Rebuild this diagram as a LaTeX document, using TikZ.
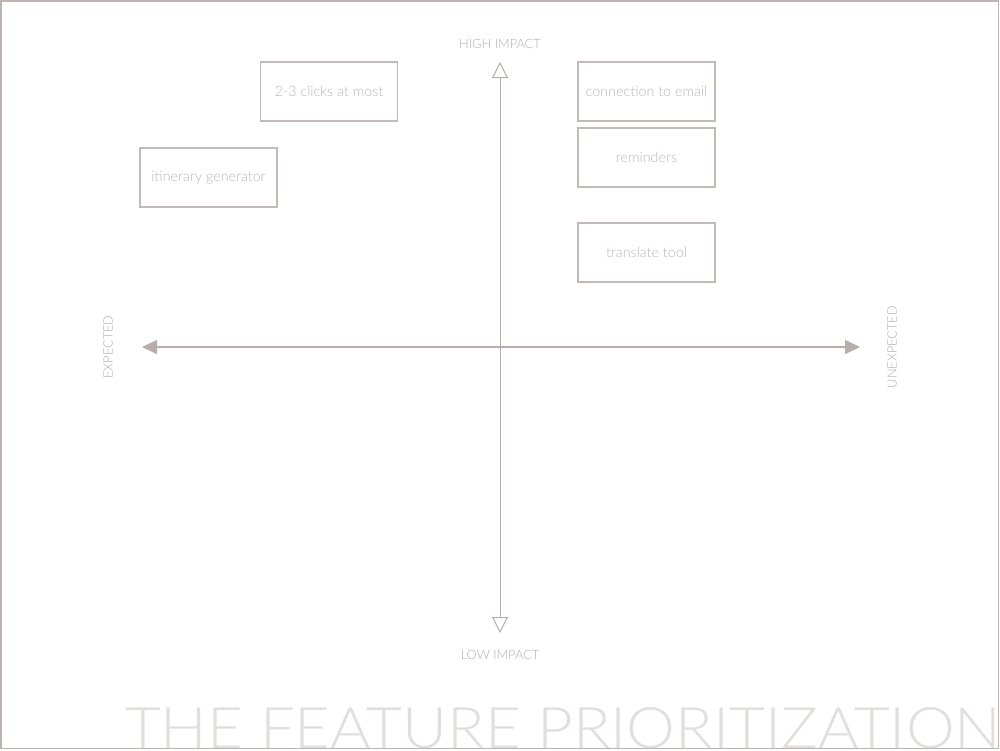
\documentclass[tikz,border=0pt]{standalone}
\usepackage{fontspec}
\setmainfont{Lato}[UprightFont={* Light}]
\usetikzlibrary{arrows.meta}
\definecolor{framec}{RGB}{190,178,178}
\definecolor{axisc}{RGB}{185,172,172}
\definecolor{labc}{RGB}{180,172,172}
\definecolor{boxc}{RGB}{195,185,185}
\definecolor{boxtext}{RGB}{188,182,182}
\definecolor{titlec}{RGB}{226,222,222}
\tikzset{
  feat/.style={draw=boxc, line width=1.1pt, minimum width=137pt, minimum height=59pt, inner sep=0pt, text=boxtext, font=\fontsize{14.3}{16}\selectfont},
  axlab/.style={text=labc, font=\fontsize{12.8}{14}\selectfont, inner sep=0pt},
  openarr/.style={-{Triangle[open, length=16pt, width=16pt, line width=1pt]}},
}
\begin{document}
\begin{tikzpicture}[x=1pt,y=-1pt]
\useasboundingbox (0,0) rectangle (1000,750);
\fill[white] (0,0) rectangle (1000,750);
\begin{scope}
\clip (1,1) rectangle (998,748);
\node[anchor=base west, inner sep=0pt, text=titlec] (title) at (125,748) {\resizebox{876pt}{41pt}{\fontsize{60}{60}\selectfont THE FEATURE PRIORITIZATION}};
\end{scope}
\draw[framec, line width=1.5pt] (1,1) rectangle (998.5,748.5) node (frame) {};
% axes
\coordinate (c) at (500,347);
\coordinate (top) at (500,62);
\coordinate (bot) at (500,633);
\coordinate (lft) at (142,347);
\coordinate (rgt) at (860,347);
\draw[axisc, line width=1pt, openarr] (c) -- (top);
\draw[axisc, line width=1pt, openarr] (c) -- (bot);
\draw[axisc, line width=1.5pt, -{Triangle[length=15pt, width=14pt]}] (c) -- (lft);
\draw[axisc, line width=1.5pt, -{Triangle[length=15pt, width=14pt]}] (c) -- (rgt);
\node[axlab] (hi) at (500,44) {HIGH IMPACT};
\node[axlab] (lo) at (500,655) {LOW IMPACT};
\node[axlab, rotate=90] (ex) at (108,347) {EXPECTED};
\node[axlab, rotate=90] (unex) at (892,347) {UNEXPECTED};
% boxes
\node[feat] (b1) at (329,91.5) {2-3 clicks at most};
\node[feat] (b2) at (646.5,91.5) {connection to email};
\node[feat] (b3) at (646.5,157.5) {reminders};
\node[feat] (b4) at (208.5,177.5) {itinerary generator};
\node[feat] (b5) at (646.5,252.5) {translate tool};
\end{tikzpicture}
\end{document}
